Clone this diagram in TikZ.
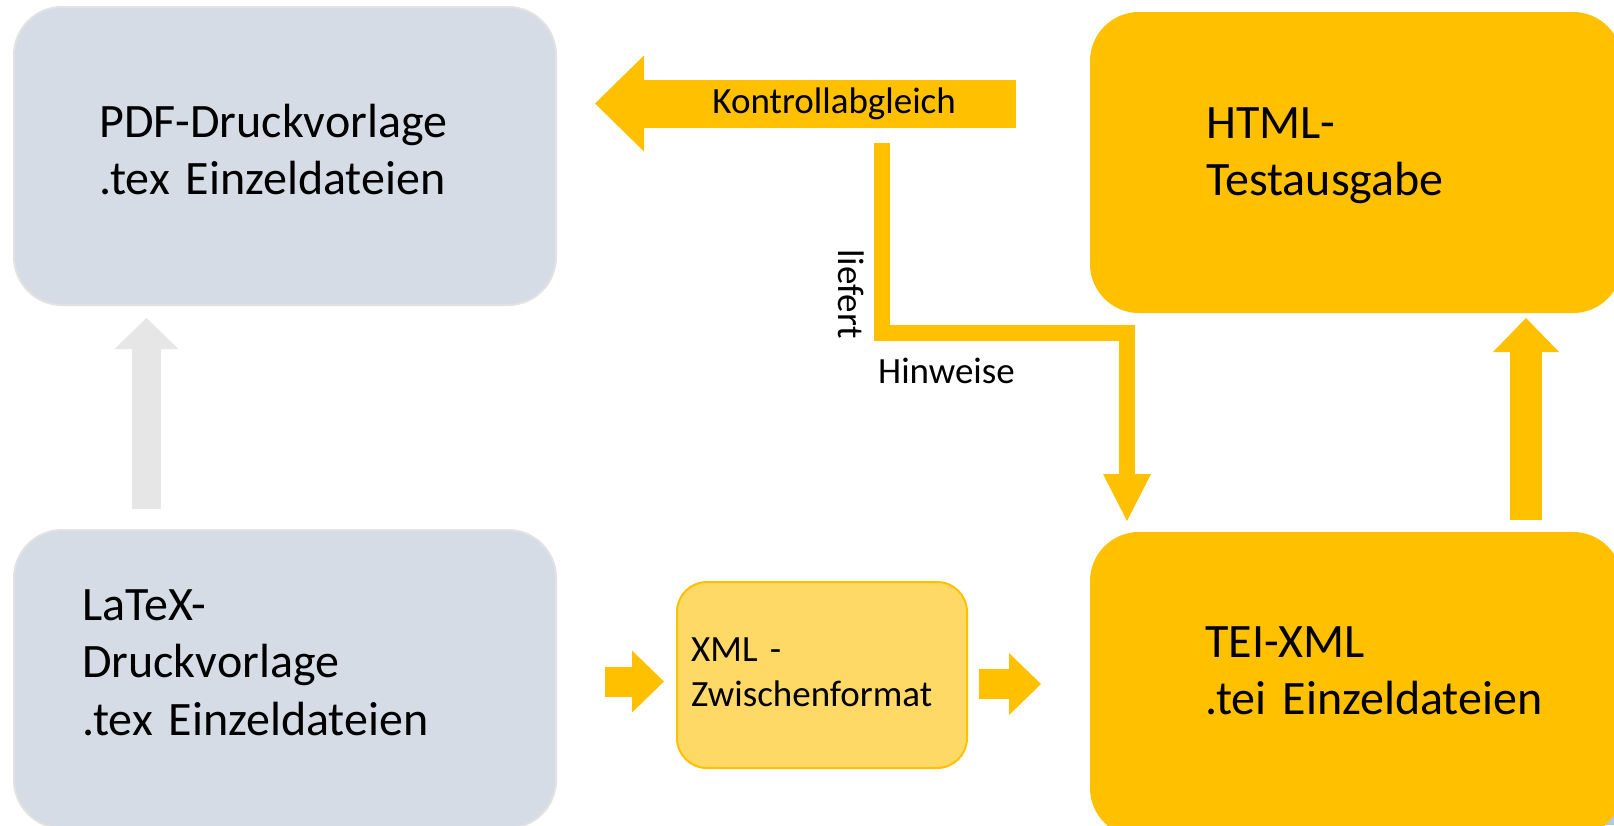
\documentclass[tikz,border=0pt]{standalone}
\usepackage{fontspec}
\setmainfont{Carlito}
\usepackage{xcolor}
\usepackage{tikz}
\usetikzlibrary{calc, arrows.meta}

\definecolor{boxGray}{HTML}{D6DCE5}
\definecolor{boxGrayBorder}{HTML}{E2E2E2}
\definecolor{arrowGray}{HTML}{E6E6E6}
\definecolor{gold}{HTML}{FFC000}
\definecolor{goldLight}{HTML}{FFD966}
\definecolor{cornerBlue}{HTML}{B4C7E7}

\begin{document}
\begin{tikzpicture}[x=1pt, y=-1pt,
		grayBox/.style={rectangle, inner sep=0pt, rounded corners=48pt, fill=boxGray, draw=boxGrayBorder, line width=2pt},
		goldBox/.style={rectangle, inner sep=0pt, rounded corners=48pt, fill=gold, draw=gold, line width=2pt},
		bigText/.style={anchor=base west, inner sep=0pt, text width=440pt, align=left, font=\fontsize{48}{57.5}\selectfont},
		smallText/.style={inner sep=0pt, font=\fontsize{37}{44}\selectfont},
		goldArrow/.style={draw=gold, line width=30pt, -{Triangle[length=32pt, width=62pt, line width=0pt]}},
		grayArrow/.style={draw=arrowGray, line width=29pt, -{Triangle[length=31pt, width=64pt, line width=0pt]}}
	]
			\def\boxH{298pt};
			\def\wideW{542pt};

			\useasboundingbox (0,0) rectangle (1614,825);

			\begin{scope}
				\fill[cornerBlue] (1560,790) rectangle (1614,825);

				\node[grayBox, minimum width=\wideW, minimum height=\boxH] (pdf) at (285,156) {};
				\node[grayBox, minimum width=\wideW, minimum height=\boxH] (latex) at (285,679) {};
				\node[goldBox, minimum width=530pt, minimum height=299pt] (html) at (1356,162.5) {};
				\node[goldBox, minimum width=530pt, minimum height=303pt] (tei) at (1356,684.5) {};
				\node[goldBox, rounded corners=30pt, fill=goldLight, minimum width=290pt, minimum height=186pt] (xml) at (822,675) {};
			\end{scope}

			\coordinate (grayX) at (146.5,0);
			\coordinate (htmlX) at (1526,0);
			\coordinate (xmlInY) at (0,681.5);
			\coordinate (xmlOutY) at (0,684);
			\coordinate (kontY) at (0,103.5);
			\coordinate (hinStart) at (882,143);
			\coordinate (hinKnee) at (882,333);
			\coordinate (hinX) at (1127,0);

			\begin{scope}
				\draw[grayArrow, shorten <=20pt, shorten >=12pt] (latex.north -| grayX) -- (pdf.south -| grayX);
				\draw[goldArrow, line width=32pt, -{Triangle[length=34pt, width=66pt, line width=0pt]}, shorten <=12pt, shorten >=5pt] (tei.north -| htmlX) -- (html.south -| htmlX);
				\draw[goldArrow, shorten <=48pt, shorten >=12pt] (latex.east |- xmlInY) -- (xml.west |- xmlInY);
				\draw[goldArrow, shorten <=11pt, shorten >=49pt] (xml.east |- xmlOutY) -- (tei.west |- xmlOutY);
			\end{scope}

			\begin{scope}[draw=gold]
				\draw[line width=48pt, -{Triangle[length=49pt, width=96pt, line width=0pt]}, shorten <=74pt, shorten >=38pt] (html.west |- kontY) -- node[smallText, pos=0.48] (kontText) {Kontrollabgleich} (pdf.east |- kontY);
				\draw[line width=16pt, -{Triangle[length=47pt, width=48pt, line width=0pt]}, shorten >=11pt] (hinStart) -- (hinKnee) -| (tei.north -| hinX);
			\end{scope}

			\node[smallText, rotate=-90] (liefert) at (851.5,294) {liefert};
			\node[smallText, anchor=base west] (hinweise) at (878,383) {Hinweise};

			\node[bigText] (pdfText) at (99,137) {PDF-Druckvorlage\\.tex Einzeldateien};
			\node[bigText] (latexText) at (82,620) {LaTeX-\\Druckvorlage\\.tex Einzeldateien};
			\node[bigText] (htmlText) at (1206,138) {HTML-\\Testausgabe};
			\node[bigText] (teiText) at (1205,657) {TEI-XML\\.tei Einzeldateien};
			\node[smallText, anchor=base west, text width=260pt, align=left, font=\fontsize{37}{45}\selectfont] (xmlText) at (691,661) {XML -\\Zwischenformat};
		\end{tikzpicture}
\end{document}
